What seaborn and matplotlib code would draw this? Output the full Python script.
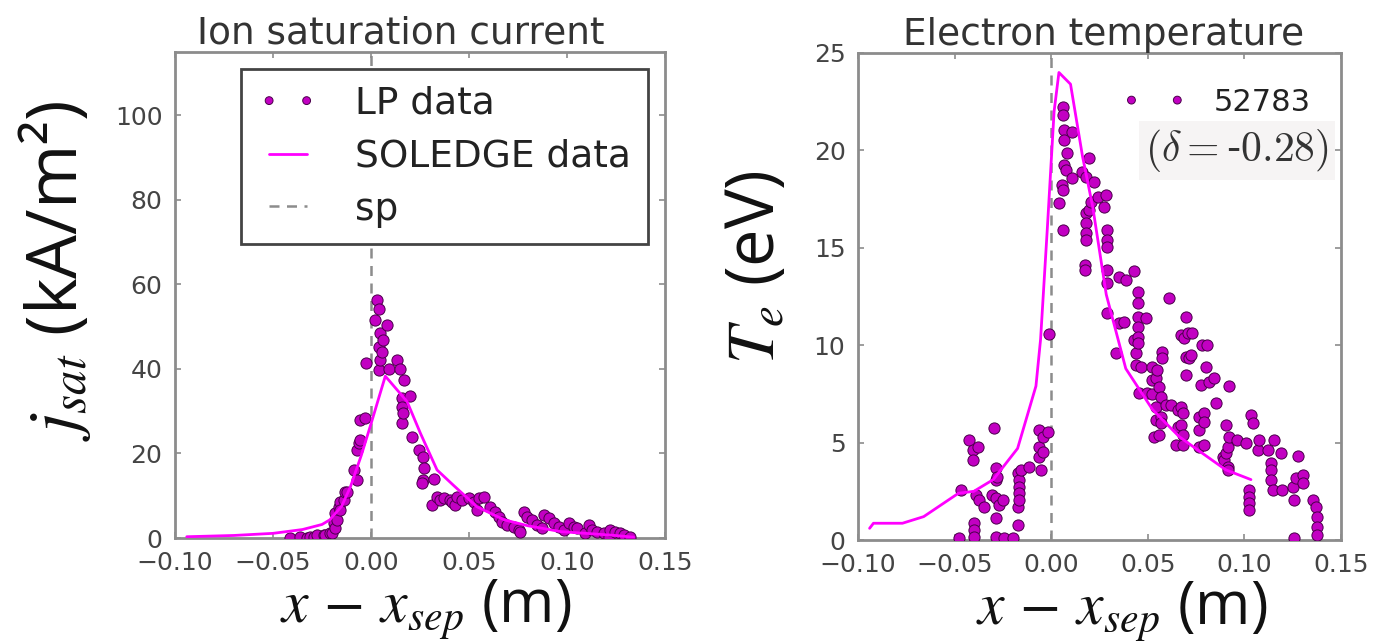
import matplotlib
matplotlib.use("Agg")
import matplotlib.pyplot as plt
import seaborn as sns
import pandas as pd

# ---------------- data ----------------
# Left panel: ion saturation current (kA/m^2)
lp_x_left = [-0.0412, -0.0361, -0.0327, -0.0310, -0.0292, -0.0276, -0.0241, -0.0233, -0.0208, -0.0199,
             -0.0190, -0.0182, -0.0182, -0.0173, -0.0165, -0.0157, -0.0157, -0.0139, -0.0131, -0.0122,
             -0.0088, -0.0071, -0.0071, -0.0063, -0.0054, -0.0054, -0.0029, -0.0024,
             0.0019, 0.0031, 0.0039, 0.0039, 0.0039, 0.0048, 0.0048, 0.0056, 0.0061, 0.0082, 0.0090,
             0.0133, 0.0150, 0.0158, 0.0158, 0.0158, 0.0163, 0.0167, 0.0200, 0.0209, 0.0243, 0.0265,
             0.0269, 0.0265, 0.0260, 0.0311, 0.0320,
             0.0337, 0.0354, 0.0371, 0.0405, 0.0413, 0.0430, 0.0439, 0.0464, 0.0498, 0.0524, 0.0541,
             0.0549, 0.0575, 0.0609, 0.0634, 0.0651, 0.0668, 0.0694, 0.0728, 0.0753, 0.0762, 0.0779,
             0.0796, 0.0821, 0.0847, 0.0872, 0.0881, 0.0907, 0.0932, 0.0958, 0.0983, 0.1009, 0.1034,
             0.1051, 0.1093, 0.1111, 0.1128, 0.1153, 0.1187, 0.1213, 0.1221, 0.1247, 0.1272, 0.1289,
             0.1323]
lp_y_left = [0.0, 0.2, 0.0, 0.3, 0.3, 0.7, 0.7, 0.7, 1.1, 1.1,
             3.5, 2.3, 5.8, 4.3, 7.4, 8.6, 6.6, 9.0, 11.0, 11.0,
             16.1, 13.7, 20.8, 22.4, 23.2, 27.9, 28.3, 41.3,
             51.6, 56.3, 54.3, 45.3, 39.8, 48.4, 42.1, 44.1, 46.9, 50.4, 40.1,
             42.1, 40.1, 33.1, 31.1, 27.1, 29.5, 37.4, 33.6, 24.0, 20.8, 19.2,
             16.5, 13.7, 12.9, 7.8, 13.9,
             9.8, 9.0, 9.4, 9.0, 8.6, 7.8, 9.8, 9.0, 9.4, 8.6, 6.6,
             9.4, 9.8, 7.4, 6.2, 5.0, 3.9, 3.1, 2.7, 1.9, 1.5, 6.2,
             5.0, 4.3, 3.1, 2.3, 5.4, 4.7, 3.5, 2.7, 1.9, 3.5, 2.7,
             2.3, 1.1, 3.1, 1.9, 1.5, 1.1, 0.3, 1.9, 1.5, 1.1, 0.7,
             0.3]
sol_x_left = [-0.094, -0.070, -0.050, -0.035, -0.025, -0.021, -0.015, -0.0105, -0.005, 0.0,
              0.0073, 0.0184, 0.0252, 0.0337, 0.042, 0.054, 0.068, 0.080, 0.097, 0.122, 0.134]
sol_y_left = [0.3, 0.6, 1.1, 2.0, 3.2, 4.3, 7.5, 12.1, 19.5, 27.0,
              38.3, 32.3, 24.8, 16.1, 12.5, 7.4, 4.3, 2.9, 1.5, 0.7, 0.2]

# Right panel: electron temperature (eV)
lp_x_right = [-0.0476, -0.0467, -0.0424, -0.0407, -0.0407, -0.0399, -0.0399, -0.0399, -0.0390, -0.0381,
              -0.0373, -0.0347, -0.0304, -0.0295, -0.0286, -0.0286, -0.0286, -0.0286, -0.0286, -0.0278,
              -0.0269, -0.0252, -0.0243, -0.0200, -0.0174, -0.0174, -0.0174, -0.0166, -0.0166, -0.0166,
              -0.0166, -0.0157, -0.0114, -0.0062, -0.0062, -0.0062, -0.0053, -0.0045, -0.0045, -0.0019,
              -0.0010,
              0.0041, 0.0055, 0.0059, 0.0059, 0.0059, 0.0062, 0.0067, 0.0067, 0.0067, 0.0076,
              0.0084, 0.0110, 0.0110, 0.0162, 0.0176, 0.0176, 0.0180, 0.0180, 0.0180, 0.0180,
              0.0180, 0.0197, 0.0197, 0.0205, 0.0223, 0.0240, 0.0274, 0.0283, 0.0291, 0.0291,
              0.0291, 0.0291, 0.0291, 0.0291, 0.0335, 0.0352, 0.0352, 0.0378, 0.0387, 0.0430,
              0.0430, 0.0438, 0.0438, 0.0447, 0.0447, 0.0447, 0.0447, 0.0447, 0.0447, 0.0455,
              0.0464, 0.0490, 0.0498,
              0.0524, 0.0524, 0.0524, 0.0533, 0.0542, 0.0542, 0.0542, 0.0550, 0.0559, 0.0559,
              0.0568, 0.0568, 0.0568, 0.0576, 0.0576, 0.0594, 0.0611, 0.0620, 0.0645, 0.0654,
              0.0654, 0.0671, 0.0671, 0.0671, 0.0680, 0.0680, 0.0680, 0.0688, 0.0697, 0.0697,
              0.0697, 0.0706, 0.0714, 0.0723, 0.0731, 0.0766, 0.0766, 0.0766, 0.0775, 0.0783,
              0.0792, 0.0792, 0.0792, 0.0801, 0.0809, 0.0818, 0.0844, 0.0852, 0.0887, 0.0895,
              0.0904, 0.0904, 0.0913, 0.0913, 0.0913, 0.0921, 0.0921, 0.0964, 0.1008, 0.1025,
              0.1025, 0.1025, 0.1025, 0.1034, 0.1042, 0.1068, 0.1077, 0.1120, 0.1137, 0.1137,
              0.1137, 0.1146, 0.1154, 0.1189, 0.1197, 0.1249, 0.1258, 0.1258, 0.1267, 0.1275,
              0.1301, 0.1301, 0.1353, 0.1370, 0.1378, 0.1378, 0.1378]
lp_y_right = [0.09, 2.57, 5.13, 4.62, 4.10, 0.86, 0.51, 0.17, 2.31, 4.79,
              2.05, 1.71, 2.31, 5.73, 3.68, 3.08, 2.14, 1.11, 0.17, 3.25,
              1.80, 2.05, 0.09, 0.09, 3.42, 1.71, 0.77, 3.08, 2.74, 2.40,
              2.05, 3.59, 3.73, 5.65, 4.79, 4.28, 3.59, 5.30, 4.53, 5.56,
              10.6,
              17.28, 18.22, 22.24, 17.97, 15.91, 21.82, 21.05, 20.53, 19.25, 18.99,
              19.85, 20.96, 18.57, 18.91, 14.12, 13.86, 18.65, 16.77, 16.26, 15.74,
              15.40, 19.59, 16.94, 17.37, 18.39, 17.62, 17.11, 17.71, 15.91, 15.40,
              15.06, 13.86, 13.18, 11.64, 9.58, 13.52, 11.12, 11.21, 13.35, 13.82,
              10.27, 9.58, 8.98, 12.75, 12.15, 11.46, 10.95, 10.44, 10.10, 7.53,
              8.90, 11.38, 7.53,
              8.90, 8.20, 7.50, 5.30, 8.30, 6.84, 6.16, 8.73, 7.87, 5.39,
              7.36, 6.33, 5.99, 9.67, 9.33, 6.93, 12.41, 6.93, 4.88, 6.67,
              5.82, 10.52, 6.84, 5.90, 6.50, 5.39, 4.88, 10.35, 11.46, 9.41,
              8.47, 10.61, 9.33, 9.50, 10.61, 6.33, 5.65, 4.79, 7.96, 10.00,
              6.50, 6.07, 4.88, 8.90, 10.01, 8.13, 8.30, 7.05, 4.28, 4.10,
              5.90, 4.45, 4.79, 3.76, 3.59, 7.90, 5.30, 5.13, 4.96, 2.57,
              2.22, 1.88, 1.54, 6.42, 5.99, 4.62, 5.13, 4.62, 3.94, 3.59,
              3.08, 2.57, 5.13, 4.45, 2.57, 2.74, 2.05, 0.09, 3.17, 4.31,
              3.34, 2.91, 2.05, 1.71, 1.20, 0.68, 0.26]
sol_x_right = [-0.094, -0.092, -0.077, -0.066, -0.048, -0.040, -0.030, -0.0174, -0.0079, -0.0055,
               -0.002, 0.0015, 0.004, 0.010, 0.0162, 0.0215, 0.0285, 0.0386, 0.0524, 0.0663,
               0.0783, 0.0904, 0.1034]
sol_y_right = [0.6, 0.86, 0.86, 1.2, 2.4, 2.5, 3.1, 4.7, 7.9, 10.3,
               16.0, 22.0, 24.0, 23.4, 19.7, 17.1, 12.6, 8.8, 6.7, 5.3,
               4.45, 3.6, 3.1]

x_ticks = [-0.10, -0.05, 0.00, 0.05, 0.10, 0.15]
y_ticks_left = [0, 20, 40, 60, 80, 100]
y_ticks_right = [0, 5, 10, 15, 20, 25]

# ---------------- style ----------------
sns.set_style("ticks")
plt.rcParams.update({
    "font.family": ["DejaVu Sans"],
    "mathtext.fontset": "stix",
    "axes.edgecolor": "#8c8c8c",
    "axes.linewidth": 2.0,
    "xtick.direction": "in",
    "ytick.direction": "in",
    "xtick.top": True,
    "ytick.right": True,
    "xtick.color": "#8c8c8c",
    "ytick.color": "#8c8c8c",
    "xtick.labelcolor": "#444444",
    "ytick.labelcolor": "#444444",
    "xtick.labelsize": 18,
    "ytick.labelsize": 18,
    "xtick.major.size": 4,
    "ytick.major.size": 4,
    "xtick.major.width": 1.2,
    "ytick.major.width": 1.2,
    "xtick.major.pad": 9,
    "ytick.major.pad": 9,
})

PT_COLOR = "#c200c2"
PT_EDGE = "#4a004a"
LINE_COLOR = "#ff00ff"

fig = plt.figure(figsize=(13.83, 6.42), dpi=100)
axL = fig.add_axes([175 / 1383, 1 - 538 / 642, 490 / 1383, 486 / 642])
axR = fig.add_axes([858 / 1383, 1 - 540 / 642, 483 / 1383, 487 / 642])

df_lp_l = pd.DataFrame({"x": lp_x_left, "y": lp_y_left})
df_sol_l = pd.DataFrame({"x": sol_x_left, "y": sol_y_left})
df_lp_r = pd.DataFrame({"x": lp_x_right, "y": lp_y_right})
df_sol_r = pd.DataFrame({"x": sol_x_right, "y": sol_y_right})

label_font = "Open Sans"
tick_labels = [f"{v:.2f}".replace("-", "\u2212") for v in x_ticks]

# ---- left panel ----
axL.axvline(0, color="#8c8c8c", ls="--", lw=1.8, dashes=(4, 3), label="sp", zorder=1)
sns.scatterplot(data=df_lp_l, x="x", y="y", ax=axL, s=65, color=PT_COLOR,
                edgecolor=PT_EDGE, linewidth=0.7, label="LP data", zorder=3, legend=False)
sns.lineplot(data=df_sol_l, x="x", y="y", ax=axL, color=LINE_COLOR, linewidth=2.0,
             estimator=None, sort=False, label="SOLEDGE data", zorder=4, legend=False)
axL.set_xlim(-0.10, 0.15)
axL.set_ylim(0, 115)
axL.set_xticks(x_ticks)
axL.set_xticklabels(tick_labels)
axL.set_yticks(y_ticks_left)
axL.set_title("Ion saturation current", fontsize=27, color="#333333", x=0.461, pad=4)
axL.set_xlabel(r"$x\,-\,x_{sep}$ (m)", fontsize=43, family=label_font, color="#111111")
axL.set_ylabel(r"$j_{sat}$ (kA/m²)", fontsize=50, family=label_font, color="#111111")
axL.xaxis.set_label_coords(0.512, -0.08)
axL.yaxis.set_label_coords(-0.165, 0.55)

h, l = axL.get_legend_handles_labels()
order = [l.index("LP data"), l.index("SOLEDGE data"), l.index("sp")]
legL = axL.legend([h[i] for i in order], [l[i] for i in order], loc="upper right",
                  fontsize=27, frameon=True, fancybox=False, framealpha=1,
                  edgecolor="#444444", numpoints=2, scatterpoints=2, scatteryoffsets=[0.5],
                  markerscale=0.7, handlelength=1.6, handletextpad=1.0,
                  borderaxespad=0.45, labelspacing=0.45, borderpad=0.45)
legL.get_frame().set_linewidth(2.0)
for t in legL.get_texts():
    t.set_color("#222222")

# ---- right panel ----
axR.axvline(0, color="#8c8c8c", ls="--", lw=1.8, dashes=(4, 3), zorder=1)
sns.scatterplot(data=df_lp_r, x="x", y="y", ax=axR, s=65, color=PT_COLOR,
                edgecolor=PT_EDGE, linewidth=0.7, label="52783", zorder=3, legend=False)
sns.lineplot(data=df_sol_r, x="x", y="y", ax=axR, color=LINE_COLOR, linewidth=2.0,
             estimator=None, sort=False, zorder=4, legend=False)
axR.set_xlim(-0.10, 0.15)
axR.set_ylim(0, 25)
axR.set_xticks(x_ticks)
axR.set_xticklabels(tick_labels)
axR.set_yticks(y_ticks_right)
axR.set_title("Electron temperature", fontsize=27, color="#333333", x=0.509, pad=4)
axR.set_xlabel(r"$x\,-\,x_{sep}$ (m)", fontsize=43, family=label_font, color="#111111")
axR.set_ylabel(r"$T_e$ (eV)", fontsize=48, family=label_font, color="#111111")
axR.xaxis.set_label_coords(0.547, -0.08)
axR.yaxis.set_label_coords(-0.14, 0.56)

hR, lR = axR.get_legend_handles_labels()
legR = axR.legend(hR, lR, loc="upper right", bbox_to_anchor=(0.995, 0.985), fontsize=22,
                  frameon=False, scatterpoints=2, scatteryoffsets=[0.5], markerscale=0.7,
                  handlelength=2.1, handletextpad=0.9)
for t in legR.get_texts():
    t.set_color("#222222")

axR.text(0.785, 0.80, r"$(\delta{=}$-$0.28)$", transform=axR.transAxes, fontsize=30,
         ha="center", va="center", family="DejaVu Serif", math_fontfamily="cm",
         color="#333333", zorder=5,
         bbox=dict(boxstyle="square,pad=0.15", facecolor="#f6f4f4", edgecolor="none"))

fig.savefig("out.png", dpi=100)
